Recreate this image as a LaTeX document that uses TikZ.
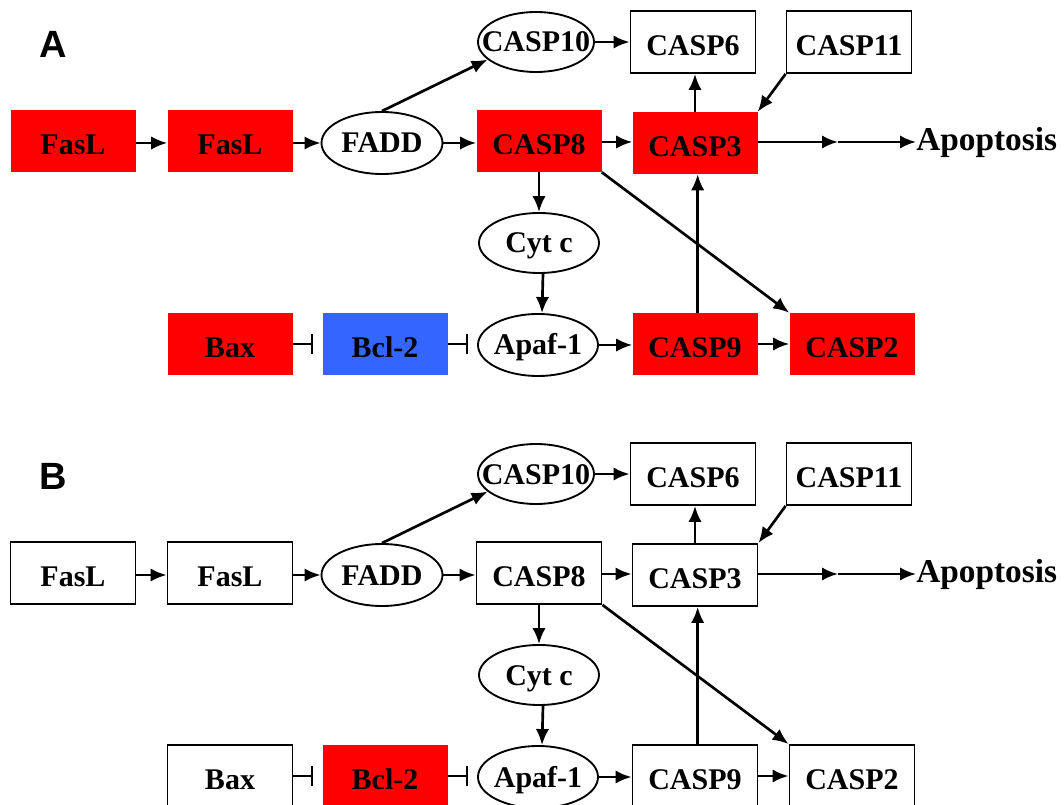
\documentclass[tikz,border=0pt]{standalone}
\usepackage{fontspec}
\setmainfont{Liberation Serif}
\newfontfamily\labelfont{Liberation Sans}
\usetikzlibrary{arrows.meta,shapes.geometric}
\definecolor{myred}{RGB}{255,0,0}
\definecolor{myblue}{RGB}{51,102,255}
\tikzset{
  every node/.style={font=\bfseries\fontsize{22.5}{27}\selectfont, inner sep=0pt},
  basebox/.style={rectangle, minimum width=93.75pt, minimum height=46.5pt, text height=20pt, text depth=0pt},
  redbox/.style={basebox, fill=myred},
  bluebox/.style={basebox, fill=myblue},
  whitebox/.style={basebox, draw, line width=1.4pt, fill=white},
  oval/.style={ellipse, draw, line width=1.4pt, fill=white, minimum width=90pt, minimum height=46pt, text height=15pt, text depth=0pt},
  arr/.style={line width=2pt, -{Latex[length=12pt,width=10pt]}},
  inh/.style={line width=1.4pt, -{Bar[width=15pt,line width=1.4pt]}, shorten >=6.75pt},
  panellabel/.style={font=\labelfont\bfseries\fontsize{28.5}{30}\selectfont},
  apolabel/.style={font=\bfseries\fontsize{25}{29}\selectfont, anchor=west},
}
\newcommand\drawpanel[5]{%
  \begin{scope}[shift={(0,#2)}]
    \node[panellabel] (#1lab) at (53.5,44) {#5};
    \node[#3] (#1fasl1) at (73,141) {FasL};
    \node[#3] (#1fasl2) at (230,141) {FasL};
    \node[oval, minimum width=90.75pt, minimum height=46.5pt] (#1fadd) at (382,143) {\makebox[0pt]{FADD}};
    \node[#3] (#1casp8) at (539,141) {CASP8};
    \node[#3] (#1casp3) at (695,143) {CASP3};
    \node[oval, minimum width=87pt, minimum height=45pt] (#1casp10) at (536,42) {\makebox[0pt]{CASP10}};
    \node[whitebox] (#1casp6) at (693,42) {CASP6};
    \node[whitebox] (#1casp11) at (849,42) {CASP11};
    \node[oval, minimum width=90pt, minimum height=45pt] (#1cytc) at (539,243) {\makebox[0pt]{Cyt c}};
    \node[#3] (#1bax) at (230,344) {Bax};
    \node[#4] (#1bcl2) at (385,344) {Bcl-2};
    \node[oval, minimum width=90pt, minimum height=46.5pt] (#1apaf) at (538,345) {\makebox[0pt]{Apaf-1}};
    \node[#3] (#1casp9) at (695,344) {CASP9};
    \node[#3] (#1casp2) at (852,344) {CASP2};
    \node[apolabel] (#1apo) at (916,142) {Apoptosis};
    \coordinate (#1mid) at (838,142);
    % connectors
    \draw[arr] (#1fasl1.east |- #1fadd) -- (#1fasl2.west |- #1fadd);
    \draw[arr] (#1fasl2.east |- #1fadd) -- (#1fadd.west);
    \draw[arr] (#1fadd.east) -- (#1fadd.east -| #1casp8.west);
    \draw[arr] (#1fadd.north) -- (#1casp10.200);
    \draw[arr] (#1casp10.east) -- (#1casp6.west);
    \draw[arr] (#1casp8.east |- #1mid) -- (#1casp3.west |- #1mid);
    \draw[arr] (#1casp3.north) -- (#1casp3.north |- #1casp6.south);
    \draw[arr] (#1casp11.south west) -- (#1casp3.north east);
    \draw[arr] (#1casp3.east |- #1mid) -- (#1mid);
    \draw[arr] (#1mid) -- (#1apo.west);
    \draw[arr] (#1casp8.south) -- (#1cytc.north);
    \draw[arr] ([xshift=3pt]#1cytc.south) -- ([xshift=3pt]#1apaf.north);
    \draw[arr] (#1casp8.south east) -- (#1casp2.north west);
    \draw[arr] ([xshift=2pt]#1casp9.north) -- ([xshift=2pt]#1casp3.south);
    \draw[inh] (#1bax.east) -- (#1bcl2.west);
    \draw[inh] (#1bcl2.east) -- (#1bcl2.east -| #1apaf.west);
    \draw[arr] (#1apaf.east) -- (#1apaf.east -| #1casp9.west);
    \draw[arr] (#1casp9.east) -- (#1casp2.west);
  \end{scope}}
\begin{document}
\begin{tikzpicture}[x=0.75pt, y=-0.75pt]
  \useasboundingbox (0,0) rectangle (1064,805);
  \clip (0,0) rectangle (1064,805);
  \fill[white] (0,0) rectangle (1064,805);
  \drawpanel{a}{0}{redbox}{bluebox}{A}
  \drawpanel{b}{432}{whitebox}{redbox}{B}
\end{tikzpicture}
\end{document}
